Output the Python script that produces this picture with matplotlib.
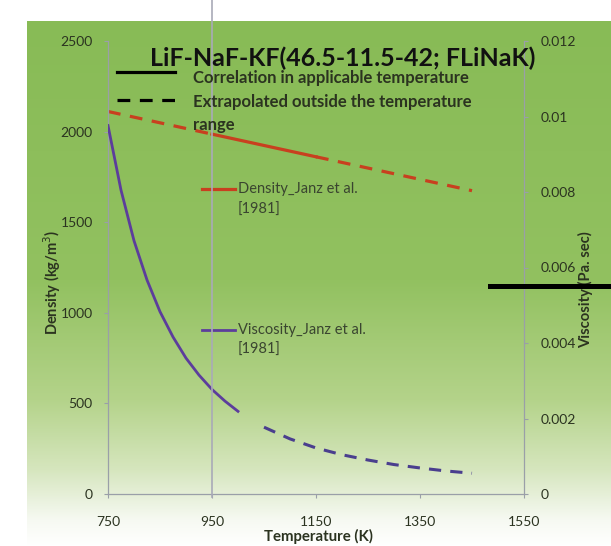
import matplotlib
matplotlib.use("Agg")
import matplotlib.pyplot as plt
import numpy as np
from matplotlib.lines import Line2D

plt.rcParams["font.family"] = ["Lato", "DejaVu Sans"]

# Density, Janz et al. [1981] (kg/m3)
dens_T_solid = [950, 1150]
dens_solid = [1986, 1861]
dens_T_lo = [750, 950]
dens_lo = [2111, 1986]
dens_T_hi = [1150, 1450]
dens_hi = [1861, 1674]

# Viscosity, Janz et al. [1981] (Pa.s)
visc_T_solid = [750, 775, 800, 825, 850, 875, 900, 925, 950, 975, 1000]
visc_solid = [0.00976, 0.00805, 0.00671, 0.00567, 0.00483, 0.00416,
              0.00360, 0.00315, 0.00277, 0.00246, 0.00219]
visc_T_hi = [1050, 1100, 1150, 1200, 1250, 1300, 1350, 1400, 1450]
visc_hi = [0.00177, 0.00146, 0.00122, 0.00104, 0.00090, 0.00078,
           0.00069, 0.00061, 0.00055]

x_ticks = [750, 950, 1150, 1350, 1550]
left_ticks = [0, 500, 1000, 1500, 2000, 2500]
right_ticks = [0, 0.002, 0.004, 0.006, 0.008, 0.01, 0.012]
right_labels = ["0", "0.002", "0.004", "0.006", "0.008", "0.01", "0.012"]

RED = "#c8401f"
PURPLE = "#5c3d9c"
INK = "#2b3320"
LBL = "#3a4530"
AXC = "#9a9fa8"

W, H = 611, 546
fig = plt.figure(figsize=(W / 100, H / 100), dpi=100)


def fx(px):
    return px / W


def fy(py):
    return 1 - py / H


# green gradient panel
bg = fig.add_axes([0, 0, 1, 1])
bg.set_xlim(0, W)
bg.set_ylim(H, 0)
bg.axis("off")
stops_y = [21, 280, 400, 470, 520, 546]
stops_c = [(136, 187, 86), (146, 193, 96), (180, 211, 138),
           (214, 230, 190), (246, 249, 242), (255, 255, 255)]
ys = np.arange(21, H + 1)
grad = np.zeros((len(ys), 1, 3))
for k in range(3):
    grad[:, 0, k] = np.interp(ys, stops_y, [c[k] for c in stops_c]) / 255
bg.imshow(grad, extent=[27, W, H, 21], aspect="auto", interpolation="bilinear")

# main axes
l, r, b, t = 108, 524, 494, 41
ax = fig.add_axes([fx(l), fy(b), fx(r) - fx(l), fy(t) - fy(b)])
ax.patch.set_alpha(0)
ax2 = ax.twinx()
ax2.patch.set_alpha(0)

ax.plot(dens_T_lo, dens_lo, color=RED, lw=2.3, ls=(0, (4, 3)))
ax.plot(dens_T_solid, dens_solid, color=RED, lw=2.3)
ax.plot(dens_T_hi, dens_hi, color=RED, lw=2.3, ls=(0, (4, 3)))
ax2.plot(visc_T_solid, visc_solid, color=PURPLE, lw=2.0)
ax2.plot(visc_T_hi, visc_hi, color="#4a3e8e", lw=2.2, ls=(0, (4, 3)))

ax.set_xlim(750, 1550)
ax.set_ylim(0, 2500)
ax2.set_ylim(0, 0.012)
ax.set_xticks(x_ticks)
ax.set_yticks(left_ticks)
ax2.set_yticks(right_ticks)
ax2.set_yticklabels(right_labels)

for a in (ax, ax2):
    for s in a.spines.values():
        s.set_color(AXC)
        s.set_linewidth(0.9)
    a.spines["top"].set_visible(False)
ax.spines["right"].set_visible(False)
ax2.spines["left"].set_visible(False)
ax2.spines["bottom"].set_visible(False)

ax.tick_params(axis="x", length=3, color=AXC, pad=13, labelsize=10,
               labelcolor=INK)
ax.tick_params(axis="y", length=3, color=AXC, pad=8, labelsize=10,
               labelcolor=INK)
ax2.tick_params(axis="y", length=3, color=AXC, pad=9, labelsize=10,
                labelcolor=INK)

fig.text(fx(318), fy(536), "Temperature (K)", ha="center", va="center",
         fontsize=10.8, fontweight="bold", color=INK)
fig.text(fx(52), fy(282), "Density (kg/m$^3$)", rotation=90, ha="center",
         va="center", fontsize=10.5, fontweight="bold", color=INK)
fig.text(fx(586), fy(290), "Viscosity (Pa. sec)", rotation=90, ha="center",
         va="center", fontsize=10.6, fontweight="bold", color=INK)

# title and line-style key
fig.text(fx(150), fy(58), "LiF-NaF-KF(46.5-11.5-42; FLiNaK)", ha="left",
         va="center", fontsize=18, fontweight="bold", color="#111111")
fig.add_artist(Line2D([fx(117), fx(175)], [fy(72), fy(72)], color="black",
                      lw=2.3))
fig.add_artist(Line2D([fx(117), fx(175)], [fy(100), fy(100)], color="black",
                      lw=2.3, ls=(0, (4, 3))))
fig.text(fx(193), fy(78), "Correlation in applicable temperature", ha="left",
         va="center", fontsize=12, fontweight="bold", color=INK)
fig.text(fx(193), fy(102), "Extrapolated outside the temperature", ha="left",
         va="center", fontsize=12, fontweight="bold", color=INK)
fig.text(fx(193), fy(125), "range", ha="left", va="center", fontsize=12,
         fontweight="bold", color=INK)

# series labels
fig.add_artist(Line2D([fx(202), fx(235)], [fy(189), fy(189)], color=RED,
                      lw=2.3))
fig.text(fx(238), fy(189), "Density_Janz et al.", ha="left", va="center",
         fontsize=10.5, color=LBL)
fig.text(fx(238), fy(210), "[1981]", ha="left", va="center", fontsize=10.5,
         color=LBL)
fig.add_artist(Line2D([fx(202), fx(235)], [fy(330), fy(330)], color=PURPLE,
                      lw=2.0))
fig.text(fx(238), fy(330), "Viscosity_Janz et al.", ha="left", va="center",
         fontsize=10.5, color=LBL)
fig.text(fx(238), fy(350), "[1981]", ha="left", va="center", fontsize=10.5,
         color=LBL)

# stray lines of the source picture
fig.add_artist(Line2D([fx(212), fx(212)], [fy(0), fy(497)], color="#a9aab8",
                      lw=1.2))
fig.add_artist(Line2D([fx(490), fx(611)], [fy(286), fy(286)], color="black",
                      lw=3.6, zorder=5))

fig.savefig("out.png", dpi=100)
